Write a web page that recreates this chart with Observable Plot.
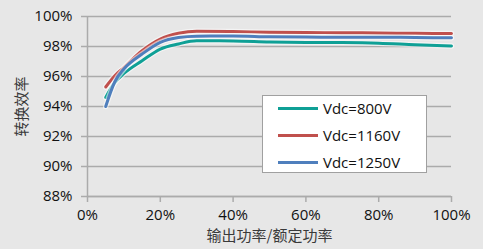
<!DOCTYPE html>
<html><head><meta charset="utf-8">
<script src="https://cdn.jsdelivr.net/npm/d3@7"></script>
<script src="https://cdn.jsdelivr.net/npm/@observablehq/plot@0.6"></script>
<style>
body{margin:0;background:#e7e7e7;}
#wrap{position:relative;width:483px;height:249px;overflow:hidden;}
#legend{position:absolute;left:262px;top:95px;width:165px;height:78px;background:#fff;border:1px solid #a0a0a0;box-sizing:border-box;font-family:"Open Sans",sans-serif;font-size:15px;color:#111;}
.row{position:absolute;left:0;height:20px;display:flex;align-items:center;white-space:nowrap;}
.sw{width:40px;height:3px;margin-left:15px;margin-right:5px;}
</style></head>
<body>
<div id="wrap"><div id="chart"></div><div id="legend"></div></div>
<script>
const xs = [5, 7.5, 10, 15, 20, 25, 30, 40, 50, 60, 70, 80, 90, 100];
const seriesNames = ["Vdc=800V", "Vdc=1160V", "Vdc=1250V"];
const colors = ["#0fa096", "#c0504d", "#4f7fbd"];
const v800  = [94.6, 95.6, 96.2, 97.05, 97.83, 98.17, 98.38, 98.37, 98.3, 98.27, 98.26, 98.22, 98.12, 98.04];
const v1160 = [95.3, 96.05, 96.6, 97.72, 98.5, 98.88, 99.02, 99.0, 98.95, 98.93, 98.92, 98.9, 98.88, 98.86];
const v1250 = [94.0, 95.65, 96.5, 97.5, 98.28, 98.6, 98.69, 98.7, 98.65, 98.63, 98.62, 98.62, 98.6, 98.58];
const xTicks = [0, 20, 40, 60, 80, 100];
const yTicks = [88, 90, 92, 94, 96, 98, 100];

const allValues = [v800, v1160, v1250];
const data = [];
allValues.forEach((arr, si) => arr.forEach((v, i) => data.push({x: xs[i], y: v, s: seriesNames[si]})));

const lineMarks = [];
seriesNames.forEach((name, si) => {
  const d = data.filter(r => r.s === name);
  lineMarks.push(Plot.line(d, {x: "x", y: "y", stroke: "#ffffff", strokeOpacity: 0.55, strokeWidth: 5.5, curve: "monotone-x"}));
  lineMarks.push(Plot.line(d, {x: "x", y: "y", stroke: colors[si], strokeWidth: 3, curve: "monotone-x"}));
});

const chart = Plot.plot({
  width: 483,
  height: 249,
  marginLeft: 87,
  marginRight: 32,
  marginTop: 16,
  marginBottom: 53,
  style: {background: "#e7e7e7", fontFamily: "'Open Sans', 'Noto Sans CJK SC', sans-serif", fontSize: "15px", color: "#111"},
  x: {domain: [0, 100]},
  y: {domain: [88, 100]},
  marks: [
    Plot.gridY(yTicks, {stroke: "#ababab", strokeOpacity: 1, strokeWidth: 1.5}),
    Plot.ruleX([0], {y1: 88, y2: 100, stroke: "#ababab", strokeWidth: 1.5}),
    Plot.ruleY([88], {stroke: "#ababab", strokeWidth: 1.5}),
    Plot.axisY(yTicks, {tickSize: 6, tickPadding: 9, stroke: "#ababab", strokeWidth: 1.5, tickFormat: d => d + "%", fill: "#111", fontSize: 15,
      label: "转换效率", labelAnchor: "center", labelArrow: "none", labelOffset: 71}),
    Plot.axisX(xTicks, {tickSize: 6, tickPadding: 7, stroke: "#ababab", strokeWidth: 1.5, tickFormat: d => d + "%", fill: "#111", fontSize: 15,
      label: "输出功率/额定功率", labelAnchor: "center", labelArrow: "none", labelOffset: 44}),
    ...lineMarks
  ]
});
document.getElementById("chart").appendChild(chart);
chart.querySelectorAll("[aria-label='y-axis label'] text, [aria-label='x-axis label'] text").forEach(t => {
  t.setAttribute("fill", "#3a3a3a");
  t.style.fontFamily = "'Noto Sans CJK SC', sans-serif";
});

const legend = document.getElementById("legend");
seriesNames.forEach((name, i) => {
  const row = document.createElement("div");
  row.className = "row";
  row.style.top = (2 + i * 27) + "px";
  const sw = document.createElement("div");
  sw.className = "sw";
  sw.style.background = colors[i];
  const tx = document.createElement("span");
  tx.textContent = name;
  row.appendChild(sw); row.appendChild(tx);
  legend.appendChild(row);
});
</script>
</body></html>
